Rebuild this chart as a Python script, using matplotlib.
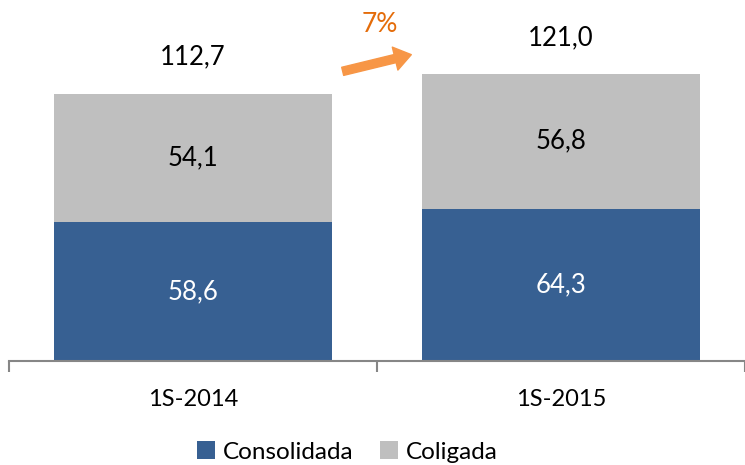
import matplotlib
matplotlib.use("Agg")
import matplotlib.pyplot as plt
from matplotlib.patches import Patch

categories = ["1S-2014", "1S-2015"]
consolidada = [58.6, 64.3]
coligada = [54.1, 56.8]
totals = [112.7, 121.0]
growth_label = "7%"

plt.rcParams['font.family'] = ['Lato', 'DejaVu Sans']

W, H = 745, 465
fig = plt.figure(figsize=(W/100, H/100), dpi=100)
ax = fig.add_axes([9/W, (H-361)/H, 736/W, 361/H])

blue = "#376092"
gray = "#BFBFBF"
x = list(range(len(categories)))
bw = 0.755
ax.bar(x, consolidada, width=bw, color=blue, zorder=2)
ax.bar(x, coligada, width=bw, bottom=consolidada, color=gray, zorder=2)

def fmt(v):
    return f"{v:.1f}".replace(".", ",")

for i in x:
    ax.text(i, consolidada[i]/2, fmt(consolidada[i]), ha="center", va="center",
            color="white", fontsize=18.5)
    ax.text(i, consolidada[i] + coligada[i]/2, fmt(coligada[i]), ha="center", va="center",
            color="black", fontsize=18.5)
    ax.annotate(fmt(totals[i]), (i, totals[i]), xytext=(0, 26.5), textcoords="offset points",
                ha="center", va="center", fontsize=18.5, color="black")

ax.set_xlim(-0.5, 1.5)
ax.set_ylim(0, 361/2.37)
for s in ["top", "right", "left"]:
    ax.spines[s].set_visible(False)
ax.spines["bottom"].set_color("#868686")
ax.spines["bottom"].set_linewidth(1.5)
ax.set_yticks([])
ax.set_xticks([-0.5, 0.5, 1.5], minor=False)
ax.set_xticklabels([])
ax.tick_params(axis="x", which="major", length=8, width=1.5, color="#868686", direction="out")
ax.set_xticks(x, minor=True)
ax.set_xticklabels(categories, minor=True, fontsize=17)
ax.tick_params(axis="x", which="minor", length=0, pad=20)

# growth arrow (figure pixel coords)
def fc(px, py):
    return (px/W, 1 - py/H)
fig.patches.append(matplotlib.patches.FancyArrowPatch(
    fc(340, 72), fc(414, 54), transform=fig.transFigure,
    arrowstyle="simple,head_length=12,head_width=17,tail_width=6",
    color="#F79646", mutation_scale=1))
fig.text(*fc(380, 25), growth_label, ha="center", va="center", fontsize=19, color="#E46C0A")

handles = [Patch(facecolor=blue), Patch(facecolor=gray)]
fig.legend(handles, ["Consolidada", "Coligada"], loc="center", bbox_to_anchor=(0.466, 1 - 452/H),
           ncol=2, frameon=False, fontsize=17.5, handlelength=0.75, handleheight=0.75,
           handletextpad=0.3, columnspacing=1.1)

fig.savefig("out.png", dpi=100)
